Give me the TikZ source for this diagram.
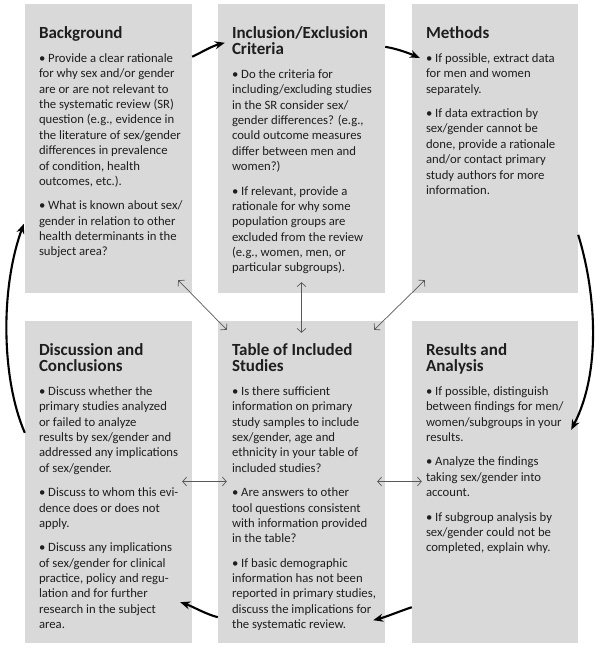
\documentclass[tikz,border=0pt]{standalone}
\usepackage{fontspec}
\setmainfont{Carlito}
\usetikzlibrary{arrows.meta,calc}
\definecolor{cardgray}{RGB}{217,217,217}
\definecolor{txt}{RGB}{30,30,30}
\newcommand{\ttlfont}{\bfseries\fontsize{17}{16}\selectfont}
\newcommand{\bdyfont}{\fontsize{12.7}{15.35}\selectfont}
\newcommand{\bgap}{\par\vskip 9pt}
\newcommand{\cardtext}[2]{\vtop{\hsize=170pt\parindent=0pt\parskip=0pt
  {\ttlfont #1\par}\vskip 8.4pt
  {\bdyfont #2\par}}}
\tikzset{
  card/.style={fill=cardgray, draw=none, inner sep=0pt, minimum width=167pt},
  cardtxt/.style={anchor=base west, inner sep=0pt, text=txt},
  cyc/.style={line width=2.1pt, black, -{Stealth[length=10pt,width=8pt]}},
  link/.style={line width=0.7pt, black!65, {Straight Barb[length=4pt,width=9pt]}-{Straight Barb[length=4pt,width=9pt]}}
}
\begin{document}
\begin{tikzpicture}[x=1pt,y=-1pt]
\fill[white] (0,0) rectangle (600,649);
\useasboundingbox (0,0) rectangle (600,649);
% boxes
\node[card, minimum height=289pt] (bg) at (108.5,148.5) {};
\node[card, minimum height=289pt] (inc) at (301.5,148.5) {};
\node[card, minimum height=289pt, minimum width=166pt] (meth) at (495,148.5) {};
\node[card, minimum height=322pt] (disc) at (108.5,482) {};
\node[card, minimum height=322pt] (tab) at (301.5,482) {};
\node[card, minimum height=322pt, minimum width=166pt] (res) at (495,482) {};
% texts
\node[cardtxt] (bgt) at ($(bg.north west)+(14,35)$) {\cardtext{Background}{%
• Provide a clear rationale\\
for why sex and/or gender\\
are or are not relevant to\\
the systematic review (SR)\\
question (e.g., evidence in\\
the literature of sex/gender\\
differences in prevalence\\
of condition, health\\
outcomes, etc.).\bgap
• What is known about sex/\\
gender in relation to other\\
health determinants in the\\
subject area?}};
\node[cardtxt] (inct) at ($(inc.north west)+(14,35)$) {\cardtext{Inclusion/Exclusion\\Criteria}{%
• Do the criteria for\\
including/excluding studies\\
in the SR consider sex/\\
gender differences? (e.g.,\\
could outcome measures\\
differ between men and\\
women?)\bgap
• If relevant, provide a\\
rationale for why some\\
population groups are\\
excluded from the review\\
(e.g., women, men, or\\
particular subgroups).}};
\node[cardtxt] (metht) at ($(meth.north west)+(14,35)$) {\cardtext{Methods}{%
• If possible, extract data\\
for men and women\\
separately.\bgap
• If data extraction by\\
sex/gender cannot be\\
done, provide a rationale\\
and/or contact primary\\
study authors for more\\
information.}};
\node[cardtxt] (disct) at ($(disc.north west)+(14,35)$) {\cardtext{Discussion and\\Conclusions}{%
• Discuss whether the\\
primary studies analyzed\\
or failed to analyze\\
results by sex/gender and\\
addressed any implications\\
of sex/gender.\bgap
• Discuss to whom this evi-\\
dence does or does not\\
apply.\bgap
• Discuss any implications\\
of sex/gender for clinical\\
practice, policy and regu-\\
lation and for further\\
research in the subject\\
area.}};
\node[cardtxt] (tabt) at ($(tab.north west)+(14,35)$) {\cardtext{Table of Included\\Studies}{%
• Is there sufficient\\
information on primary\\
study samples to include\\
sex/gender, age and\\
ethnicity in your table of\\
included studies?\bgap
• Are answers to other\\
tool questions consistent\\
with information provided\\
in the table?\bgap
• If basic demographic\\
information has not been\\
reported in primary studies,\\
discuss the implications for\\
the systematic review.}};
\node[cardtxt] (rest) at ($(res.north west)+(14,35)$) {\cardtext{Results and\\Analysis}{%
• If possible, distinguish\\
between findings for men/\\
women/subgroups in your\\
results.\bgap
• Analyze the findings\\
taking sex/gender into\\
account.\bgap
• If subgroup analysis by\\
sex/gender could not be\\
completed, explain why.}};
% cycle arrows
\draw[cyc] ($(bg.north east)+(0,53)$) .. controls +(12,-6) and +(-12,3) .. ($(inc.north west)+(7,39)$);
\draw[cyc] ($(inc.north east)+(0,43)$) .. controls +(12,2) and +(-12,-5) .. ($(meth.north west)+(8,54)$);
\draw[cyc] ($(meth.north east)+(0,231)$) .. controls +(17,55) and +(31,-60) .. ($(res.north east)+(-7,109)$);
\draw[cyc] ($(res.south west)+(0,-36)$) .. controls +(-12,4) and +(12,-3) .. ($(tab.south east)+(-12,-23)$);
\draw[cyc] ($(tab.south west)+(0,-26)$) .. controls +(-12,-3) and +(12,4) .. ($(disc.south east)+(-12,-41)$);
\draw[cyc] ($(disc.north west)+(0,112)$) .. controls +(-23,-53) and +(-24,66) .. ($(bg.north west)+(-1,220)$);
% links
\draw[link] ($(bg.south east)+(-14,-13)$) -- ($(tab.north west)+(9,9)$);
\draw[link] ($(inc.south)+(0,-11)$) -- ($(tab.north)+(0,12)$);
\draw[link] ($(meth.south west)+(13,-13)$) -- ($(tab.north east)+(-11,9)$);
\draw[link] ($(disc.east)+(-10,-0.5)$) -- ($(tab.west)+(9,-0.5)$);
\draw[link] ($(tab.east)+(-8,-0.5)$) -- ($(res.west)+(10,-0.5)$);
\end{tikzpicture}
\end{document}
